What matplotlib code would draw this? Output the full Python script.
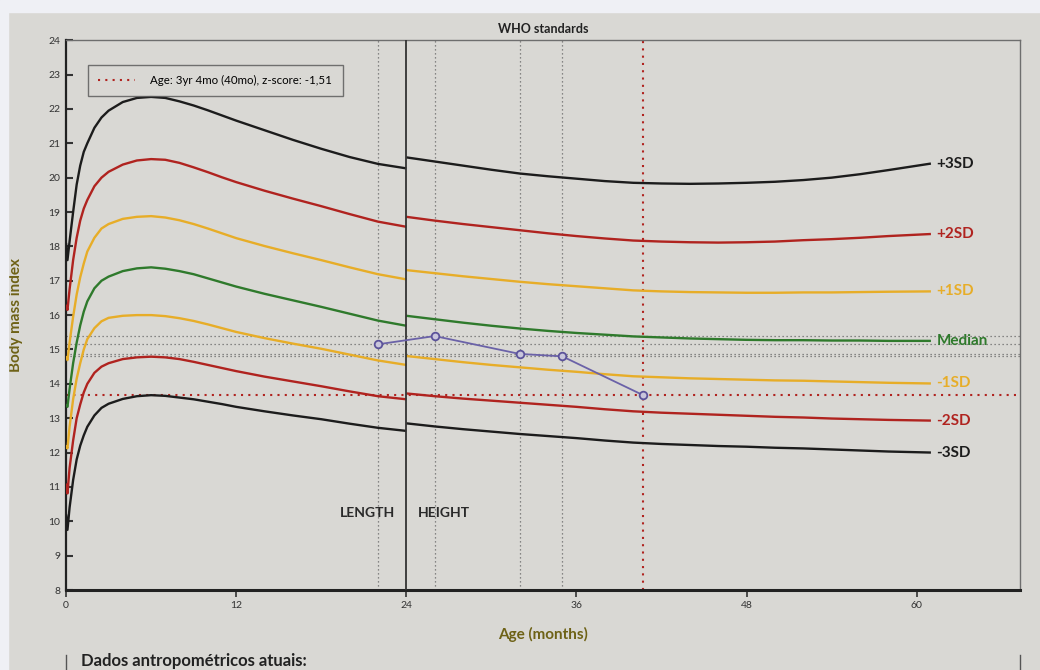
#!/usr/bin/env python

# BMI-for-age chart (WHO standards) with one child's measurements

import matplotlib.pyplot as plt
from matplotlib.lines import Line2D
from matplotlib.patches import Rectangle

plt.rcParams["font.family"] = ["Lato", "DejaVu Sans"]

# WHO curves, 0-24 months (length based)
age_len = [0, 0.1, 0.25, 0.5, 0.75, 1, 1.25, 1.5, 2, 2.5, 3, 4, 5, 6, 7, 8, 9, 10, 11, 12,
           14, 16, 18, 20, 22, 24]
len_p3 = [18.1, 17.6, 18.15, 19.0, 19.8, 20.35, 20.75, 21.0, 21.45, 21.75, 21.95, 22.2, 22.32,
          22.35, 22.32, 22.22, 22.1, 21.96, 21.81, 21.66, 21.38, 21.1, 20.84, 20.6, 20.4, 20.27]
len_p2 = [16.3, 16.15, 16.75, 17.6, 18.25, 18.75, 19.1, 19.35, 19.75, 20.0, 20.17, 20.38, 20.5,
          20.54, 20.52, 20.43, 20.3, 20.16, 20.01, 19.87, 19.62, 19.39, 19.17, 18.94, 18.72, 18.57]
len_p1 = [14.8, 14.69, 15.2, 15.95, 16.6, 17.1, 17.5, 17.85, 18.25, 18.52, 18.65, 18.8, 18.86,
          18.88, 18.84, 18.76, 18.65, 18.52, 18.38, 18.24, 18.01, 17.8, 17.6, 17.39, 17.19, 17.04]
len_med = [13.4, 13.33, 13.85, 14.6, 15.2, 15.7, 16.1, 16.4, 16.78, 17.0, 17.12, 17.28, 17.36,
           17.39, 17.35, 17.28, 17.19, 17.07, 16.95, 16.83, 16.62, 16.43, 16.24, 16.04, 15.84, 15.69]
len_m1 = [12.2, 12.12, 12.75, 13.55, 14.15, 14.6, 15.0, 15.3, 15.62, 15.82, 15.92, 15.98, 16.0,
          16.0, 15.97, 15.91, 15.83, 15.73, 15.62, 15.51, 15.33, 15.17, 15.02, 14.85, 14.68, 14.55]
len_m2 = [11.1, 10.81, 11.55, 12.35, 13.0, 13.4, 13.75, 14.0, 14.32, 14.5, 14.6, 14.72, 14.77,
          14.79, 14.77, 14.72, 14.64, 14.55, 14.46, 14.37, 14.21, 14.07, 13.93, 13.78, 13.64, 13.55]
len_m3 = [10.2, 9.75, 10.4, 11.2, 11.8, 12.2, 12.5, 12.75, 13.08, 13.3, 13.42, 13.56, 13.64,
          13.67, 13.65, 13.6, 13.55, 13.48, 13.41, 13.33, 13.2, 13.08, 12.97, 12.84, 12.72, 12.63]

# WHO curves, 24-61 months (height based)
age_hgt = [24, 26, 28, 30, 32, 34, 36, 38, 40, 42, 44, 46, 48, 50, 52, 54, 56, 58, 61]
hgt_p3 = [20.59, 20.47, 20.35, 20.23, 20.12, 20.04, 19.97, 19.9, 19.85, 19.83, 19.82, 19.83,
          19.85, 19.88, 19.93, 20.0, 20.1, 20.22, 20.41]
hgt_p2 = [18.86, 18.75, 18.65, 18.56, 18.47, 18.38, 18.3, 18.23, 18.17, 18.14, 18.12, 18.11,
          18.12, 18.14, 18.18, 18.21, 18.25, 18.3, 18.36]
hgt_p1 = [17.31, 17.22, 17.13, 17.05, 16.97, 16.9, 16.84, 16.78, 16.72, 16.69, 16.67, 16.66,
          16.65, 16.65, 16.66, 16.66, 16.67, 16.68, 16.69]
hgt_med = [15.98, 15.88, 15.78, 15.69, 15.61, 15.54, 15.48, 15.43, 15.38, 15.35, 15.32, 15.3,
           15.28, 15.27, 15.27, 15.26, 15.26, 15.25, 15.25]
hgt_m1 = [14.81, 14.72, 14.63, 14.55, 14.48, 14.41, 14.35, 14.28, 14.22, 14.19, 14.16, 14.14,
          14.12, 14.1, 14.09, 14.07, 14.05, 14.03, 14.01]
hgt_m2 = [13.72, 13.64, 13.57, 13.51, 13.45, 13.39, 13.33, 13.26, 13.2, 13.16, 13.13, 13.1,
          13.07, 13.04, 13.02, 12.99, 12.97, 12.95, 12.93]
hgt_m3 = [12.85, 12.76, 12.68, 12.61, 12.54, 12.48, 12.42, 12.35, 12.29, 12.25, 12.22, 12.19,
          12.17, 12.14, 12.12, 12.09, 12.06, 12.03, 12.0]

curve_names = ["+3SD", "+2SD", "+1SD", "Median", "-1SD", "-2SD", "-3SD"]
curve_colors = ["#1c1c1c", "#b0231f", "#e7ad28", "#2f7a2c", "#e7ad28", "#b0231f", "#1c1c1c"]

# child's measurements
child_age = [22, 26, 32, 35, 40.7]
child_bmi = [15.15, 15.39, 14.87, 14.8, 13.67]
legend_text = "Age: 3yr 4mo (40mo), z-score: -1,51"

paper = "#d9d8d4"
olive = "#6e6216"

fig = plt.figure(figsize=(10.4, 6.7), dpi=100, facecolor=paper)
# light border of the photo
fig.patches.append(Rectangle((0, 0.982), 1, 0.018, transform=fig.transFigure,
                             color="#eff0f5", zorder=0))
fig.patches.append(Rectangle((0, 0), 0.008, 1, transform=fig.transFigure,
                             color="#eff0f5", zorder=0))

ax = fig.add_axes([0.0635, 0.1194, 0.9175, 0.8206])
ax.set_facecolor(paper)

len_sets = [len_p3, len_p2, len_p1, len_med, len_m1, len_m2, len_m3]
hgt_sets = [hgt_p3, hgt_p2, hgt_p1, hgt_med, hgt_m1, hgt_m2, hgt_m3]
for name, col, yl, yh in zip(curve_names, curve_colors, len_sets, hgt_sets):
    ax.plot(age_len, yl, color=col, lw=1.7, zorder=3, solid_capstyle="butt",
            solid_joinstyle="round")
    ax.plot(age_hgt, yh, color=col, lw=1.7, zorder=3, solid_capstyle="butt",
            solid_joinstyle="round")
    ax.text(age_hgt[-1] + 0.4, yh[-1], name, color=col, fontsize=11,
            fontweight="bold", va="center", ha="left", zorder=4)

# reference lines for each measurement
for a, b in zip(child_age[:-1], child_bmi[:-1]):
    ax.axvline(a, color="#6a6a6a", lw=0.9, ls=(0, (1, 2.2)), zorder=2)
    ax.axhline(b, color="#6a6a6a", lw=0.9, ls=(0, (1, 2.2)), zorder=2)
ax.axvline(child_age[-1], color="#b0231f", lw=1.5, ls=(0, (1, 2.5)), zorder=2)
ax.axhline(child_bmi[-1], color="#b0231f", lw=1.5, ls=(0, (1, 2.5)), zorder=2)

# length / height split
ax.axvline(24, color="#333333", lw=1.3, zorder=3)
ax.text(23.2, 10.25, "LENGTH", fontsize=10, fontweight="bold", color="#2a2a2a",
        ha="right", va="center")
ax.text(24.8, 10.25, "HEIGHT", fontsize=10, fontweight="bold", color="#2a2a2a",
        ha="left", va="center")

ax.plot(child_age, child_bmi, color="#6b62a8", lw=1.3, marker="o", ms=5.5,
        mfc="#c9c6dc", mec="#5b529a", mew=1.3, zorder=5)

ax.set_xlim(0, 67.3)
ax.set_ylim(8, 24)
ax.set_xticks([0, 12, 24, 36, 48, 60])
ax.set_yticks(range(8, 25))
ax.tick_params(axis="y", direction="in", length=5, width=1.5, labelsize=7.5,
               colors="#333333", pad=4)
ax.tick_params(axis="x", direction="out", length=5, width=1.2, labelsize=7.5,
               colors="#333333", pad=3)
for s in ["top", "right"]:
    ax.spines[s].set_color("#6e6e6e")
    ax.spines[s].set_linewidth(1.0)
ax.spines["left"].set_color("#222222")
ax.spines["left"].set_linewidth(1.6)
ax.spines["bottom"].set_color("#222222")
ax.spines["bottom"].set_linewidth(2.2)

ax.set_title("WHO standards", fontsize=9, fontweight="bold", color="#222222", pad=5)
ax.set_xlabel("Age (months)", fontsize=11, fontweight="bold", color=olive, labelpad=12)
ax.set_ylabel("Body mass index", fontsize=11, fontweight="bold", color=olive, labelpad=18)

handle = Line2D([], [], color="#b0231f", lw=1.5, ls=(0, (1, 2.5)))
leg = ax.legend([handle], [legend_text], loc="upper left",
                bbox_to_anchor=(0.017, 0.966), fontsize=8.3, frameon=True,
                fancybox=False, edgecolor="#555555", facecolor=paper,
                handlelength=3.2, borderpad=0.9, handletextpad=1.3)
leg.get_frame().set_linewidth(1.0)
leg.set_zorder(6)

# start of the next section of the printed page
fig.text(0.078, 0.002, "Dados antropométricos atuais:", fontsize=12,
         fontweight="bold", color="#222222", va="bottom", ha="left")
fig.add_artist(Line2D([0.0635, 0.0635], [0, 0.022], color="#555555", lw=1.0))
fig.add_artist(Line2D([0.981, 0.981], [0, 0.022], color="#555555", lw=1.0))

fig.savefig("out.png", dpi=100, facecolor=paper)
